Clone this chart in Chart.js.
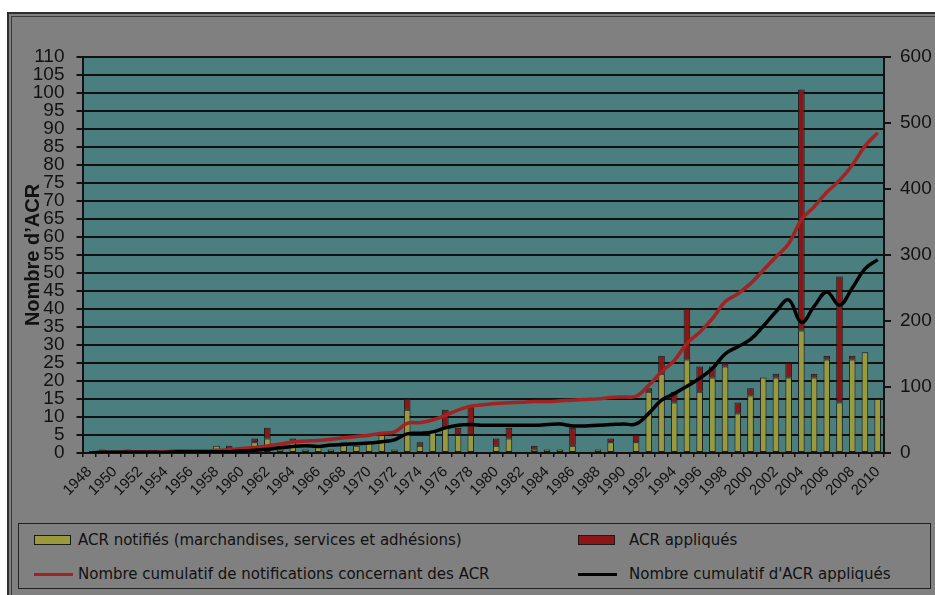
<!DOCTYPE html>
<html>
<head>
<meta charset="utf-8">
<script src="https://cdn.jsdelivr.net/npm/chart.js@4.4.0/dist/chart.umd.min.js"></script>
<style>
html,body{margin:0;padding:0;background:#fff;width:935px;height:595px;overflow:hidden;}
#frame{position:absolute;left:7px;top:12px;width:940px;height:600px;background:#808080;border-left:2px solid #2e2e2e;border-top:2px solid #2e2e2e;}
#inner{position:absolute;left:11px;top:16px;width:940px;height:600px;border-left:1px solid #3a3a3a;border-top:1px solid #3a3a3a;}
#wrap{position:absolute;left:0;top:0;width:935px;height:595px;}
#legend{position:absolute;left:18px;top:523px;width:913px;height:66px;border:1.5px solid #222;box-sizing:border-box;}
.lg{position:absolute;font-family:"DejaVu Sans",sans-serif;font-size:15px;color:#111;white-space:nowrap;line-height:18px;}
.sw{position:absolute;box-sizing:border-box;}
</style>
</head>
<body>
<div id="frame"></div>
<div id="inner"></div>
<div id="legend"></div>
<div id="wrap"><canvas id="c" width="935" height="595"></canvas></div>
<script>
const years = ['1948','1949','1950','1951','1952','1953','1954','1955','1956','1957',
  '1958','1959','1960','1961','1962','1963','1964','1965','1966','1967',
  '1968','1969','1970','1971','1972','1973','1974','1975','1976','1977',
  '1978','1979','1980','1981','1982','1983','1984','1985','1986','1987',
  '1988','1989','1990','1991','1992','1993','1994','1995','1996','1997',
  '1998','1999','2000','2001','2002','2003','2004','2005','2006','2007',
  '2008','2009','2010'];

// ACR notifiés (bottom, olive part of each bar)
const notifies = [0,1,0,1,0,0,0,1,0,0,
  2,0,0,3,4,1,3,1,2,1,
  3,2,3,5,1,12,2,6,7,5,
  5,0,2,4,0,1,1,1,2,0,
  1,3,0,3,17,22,14,26,17,21,
  24,11,16,21,21,21,34,21,26,14,
  26,28,15];

// ACR appliqués (red part shown on top of each bar)
const appliques = [0,0,0,0,0,0,0,0,0,0,
  0,2,0,1,3,0,1,0,0,0,
  0,0,0,0,0,3,1,0,5,2,
  8,0,2,3,0,1,0,0,5,0,
  0,1,0,2,1,5,3,14,7,3,
  1,3,2,0,1,4,67,1,1,35,
  1,0,0];

// Nombre cumulatif de notifications concernant des ACR (right axis)
const cumulNotif = [0,1,1,2,2,2,2,3,3,3,
  4,5,7,8.5,10.6,13.5,16.7,18,19,21,
  23,25,27,30,32,45,46,50,57,65,
  71,73,75,76,77,78,78,79,80,81,
  82,84,85,86,102.5,123,140,166,183,203.5,
  229,241,256.6,277,297,317,353.6,373,395,413,
  436,465,485];

// Nombre cumulatif d'ACR appliqués (right axis)
const cumulAppl = [0,1,1,1,1,1,1,2,2,2,
  2,2,3,4,5.6,8,10,11,10,12,
  13,14,15,17,20,29,30,32,38,42,
  43,42,42,42,42,42,43,44,41,41,
  42,43,44,44,60,80,90,101,113,128,
  150,161,172,192,214,232,198,222,244,224,
  250,279,293];

const leftTicks = {min:0, max:110, step:5};
const rightTicks = {min:0, max:600, step:100};

const C_OLIVE = '#9a9a3c', C_RED = '#8c1616', C_REDLINE = '#a32222', C_TEAL = '#4b7e7e', C_INK = '#111111';

const bgPlugin = {
  id:'bg',
  beforeDraw(chart){
    const {ctx, chartArea:a} = chart;
    ctx.save();
    ctx.fillStyle = C_TEAL;
    ctx.fillRect(a.left, a.top, a.right-a.left, a.bottom-a.top);
    ctx.restore();
  }
};

const chart = new Chart(document.getElementById('c'), {
  data: {
    labels: years,
    datasets: [
      {type:'bar', label:'ACR notifiés (marchandises, services et adhésions)', data:notifies,
       backgroundColor:C_OLIVE, borderColor:'#1a1a1a', borderWidth:1, borderSkipped:false,
       yAxisID:'y', stack:'s', order:3, barPercentage:0.52, categoryPercentage:1},
      {type:'bar', label:'ACR appliqués', data:appliques,
       backgroundColor:C_RED, borderColor:'#1a1a1a', borderWidth:1, borderSkipped:false,
       yAxisID:'y', stack:'s', order:3, barPercentage:0.52, categoryPercentage:1},
      {type:'line', label:'Nombre cumulatif de notifications concernant des ACR', data:cumulNotif,
       borderColor:C_REDLINE, backgroundColor:C_REDLINE, borderWidth:3.5, pointRadius:0, tension:0.4,
       yAxisID:'y1', order:1},
      {type:'line', label:"Nombre cumulatif d'ACR appliqués", data:cumulAppl,
       borderColor:'#000', backgroundColor:'#000', borderWidth:3.5, pointRadius:0, tension:0.4,
       yAxisID:'y1', order:0}
    ]
  },
  options: {
    responsive:false,
    animation:false,
    layout:{padding:{top:57,left:0,right:0,bottom:0}},
    plugins:{legend:{display:false}, tooltip:{enabled:false}},
    scales:{
      x:{
        stacked:true, offset:true,
        grid:{display:true, drawOnChartArea:false, offset:true, tickLength:4, color:C_INK, lineWidth:1.5},
        border:{display:true, color:C_INK, width:2},
        ticks:{autoSkip:false, maxRotation:45, minRotation:45, padding:6,
          color:C_INK, font:{family:'"Liberation Sans", Arial, sans-serif', size:15},
          callback:(v,i)=> (i%2===0 ? years[i] : '')},
        afterFit:(s)=>{ s.height = 142; }
      },
      y:{
        stacked:true, position:'left', min:leftTicks.min, max:leftTicks.max,
        grid:{color:C_INK, lineWidth:2, tickLength:6.5, drawTicks:true},
        border:{display:true, color:C_INK, width:2},
        ticks:{stepSize:leftTicks.step, autoSkip:false, padding:12, color:C_INK,
          font:{family:'"Liberation Sans", Arial, sans-serif', size:19}},
        title:{display:true, text:"Nombre d\u2019ACR", color:C_INK, padding:{top:21,bottom:0},
          font:{family:'"Liberation Sans", Arial, sans-serif', size:20, weight:'bold'}},
        afterFit:(s)=>{ s.width = 83; }
      },
      y1:{
        position:'right', min:rightTicks.min, max:rightTicks.max,
        grid:{drawOnChartArea:false, color:C_INK, lineWidth:2, tickLength:7},
        border:{display:true, color:C_INK, width:2},
        ticks:{stepSize:rightTicks.step, autoSkip:false, padding:9, color:C_INK,
          font:{family:'"Liberation Sans", Arial, sans-serif', size:19}},
        afterFit:(s)=>{ s.width = 51; }
      }
    }
  },
  plugins:[bgPlugin]
});

// HTML legend built from the chart's datasets
(function(){
  const lg = document.getElementById('legend');
  const ds = chart.data.datasets;
  const items = [
    {d:ds[0], sx:33, tx:77, cy:539, kind:'box'},
    {d:ds[1], sx:577, tx:628, cy:539, kind:'box'},
    {d:ds[2], sx:33, tx:77, cy:573, kind:'line'},
    {d:ds[3], sx:577, tx:628, cy:573, kind:'line'}
  ];
  items.forEach(it=>{
    const sw = document.createElement('div');
    sw.className = 'sw';
    if(it.kind==='box'){
      Object.assign(sw.style,{left:(it.sx-18)+'px', top:(it.cy-5-523)+'px', width:'37px', height:'10px',
        background:it.d.backgroundColor, border:'1.5px solid #1a1a1a'});
    } else {
      Object.assign(sw.style,{left:(it.sx-18)+'px', top:(it.cy-1.5-523)+'px', width:'39px', height:'3px',
        background:it.d.borderColor});
    }
    lg.appendChild(sw);
    const t = document.createElement('div');
    t.className = 'lg';
    t.textContent = it.d.label;
    t.style.left = (it.tx-18)+'px';
    t.style.top = (it.cy-9-523)+'px';
    lg.appendChild(t);
  });
})();
</script>
</body>
</html>
